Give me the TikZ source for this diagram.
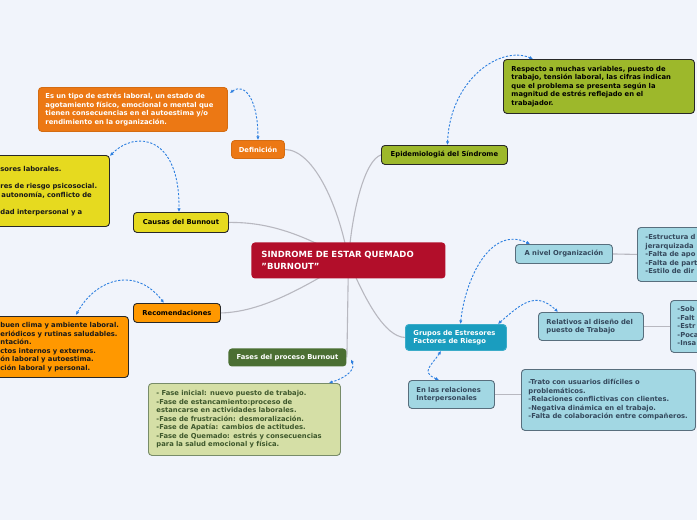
\documentclass[tikz,border=0pt]{standalone}
\usepackage{fontspec}
\setmainfont{DejaVu Sans}
\usetikzlibrary{arrows.meta,calc}
\definecolor{bgc}{RGB}{241,244,251}
\definecolor{redc}{RGB}{178,14,42}
\definecolor{orangeA}{RGB}{236,120,20}
\definecolor{orangeB}{RGB}{255,152,0}
\definecolor{olivec}{RGB}{157,184,43}
\definecolor{yellowc}{RGB}{230,218,31}
\definecolor{darkgreen}{RGB}{75,111,51}
\definecolor{palegreen}{RGB}{213,223,166}
\definecolor{pgborder}{RGB}{120,140,105}
\definecolor{pgtext}{RGB}{62,88,44}
\definecolor{tealc}{RGB}{26,157,191}
\definecolor{lightblue}{RGB}{162,215,227}
\definecolor{lbborder}{RGB}{88,110,125}
\definecolor{lbtext}{RGB}{52,72,92}
\definecolor{darkb}{RGB}{40,40,40}
\definecolor{linkblue}{RGB}{45,127,224}
\definecolor{linegray}{RGB}{184,184,192}
\pgfdeclarelayer{back}
\pgfsetlayers{back,main}
\tikzset{
  base/.style={rectangle, rounded corners=3.5pt, anchor=north west,
    font=\fontsize{6.8}{8.5}\selectfont\bfseries, line width=0.9pt},
  topic/.style={base, align=center, inner sep=0pt},
  textbox/.style={base, align=left, inner ysep=0pt},
  mainline/.style={draw=linegray, line width=1.1pt},
  dlink/.style={draw=linkblue, line width=0.9pt, dash pattern=on 2.2pt off 1.6pt,
    {Latex[length=3.6pt,width=3.4pt]}-{Latex[length=3.6pt,width=3.4pt]}},
}
\begin{document}
\begin{tikzpicture}[x=1pt,y=-1pt]
\useasboundingbox (0,0) rectangle (697,520);

% central
\node[topic, fill=redc, text=white, minimum width=194pt, minimum height=36pt,
  font=\fontsize{8.5}{11.5}\selectfont\bfseries, align=left, text width=174pt]
  (central) at (251,242) {SINDROME DE ESTAR QUEMADO\\"BURNOUT"};

% Definicion
\node[topic, fill=orangeA, draw=orangeA!90!black, text=white, minimum width=53pt, minimum height=18pt]
  (definicion) at (231,140) {Definición};
\node[textbox, fill=orangeA, draw=orangeA!90!black, text=white, minimum width=189pt, minimum height=44pt,
  inner xsep=7pt, text width=175pt] (deftext) at (38,87)
  {Es un tipo de estrés laboral, un estado de\\agotamiento físico, emocional o mental que\\tienen consecuencias en el autoestima y/o\\rendimiento en la organización.};

% Epidemiologia
\node[topic, fill=olivec, draw=darkb, text=black, minimum width=126pt, minimum height=19pt]
  (epid) at (381,145) {Epidemiologiá del Síndrome};
\node[textbox, fill=olivec, draw=darkb, text=black, minimum width=191pt, minimum height=54pt,
  inner xsep=8pt, text width=175pt] (epitext) at (503,59)
  {Respecto a muchas variables, puesto de\\trabajo, tensión laboral, las cifras indican\\que el problema se presenta según la\\magnitud de estrés reflejado en el\\trabajador.};

% Causas
\node[topic, fill=yellowc, draw=darkb, text=black, minimum width=95pt, minimum height=20pt]
  (causas) at (133,212) {Causas del Bunnout};
\node[textbox, fill=yellowc, draw=darkb, text=black!90, minimum width=118pt, minimum height=71pt,
  inner xsep=9pt, text width=100pt] (causastext) at (-9,155)
  {sores laborales.\\\mbox{}\\res de riesgo psicosocial.\\\hspace*{1pt}autonomía, conflicto de\\\mbox{}\\dad interpersonal y a};

% Recomendaciones
\node[topic, fill=orangeB, draw=darkb, text=black, minimum width=87pt, minimum height=19pt]
  (recom) at (133,303) {Recomendaciones};
\node[textbox, fill=orangeB, draw=darkb, text=black!90, minimum width=137pt, minimum height=61pt,
  inner xsep=9pt, text width=119pt] (rectext) at (-9,316)
  {buen clima y ambiente laboral.\\eriódicos y rutinas saludables.\\ntación.\\ctos internos y externos.\\ón laboral y autoestima.\\ción laboral y personal.};

% Fases
\node[topic, fill=darkgreen, text=white, minimum width=118pt, minimum height=18pt]
  (fases) at (228,348) {Fases del proceso Burnout};
\node[textbox, fill=palegreen, draw=pgborder, text=pgtext, minimum width=192pt, minimum height=72pt,
  inner xsep=8pt, text width=176pt] (fasestext) at (148,383)
  {- Fase inicial: nuevo puesto de trabajo.\\-Fase de estancamiento:proceso de\\estancarse en actividades laborales.\\-Fase de frustración: desmoralización.\\-Fase de Apatía: cambios de actitudes.\\-Fase de Quemado: estrés y consecuencias\\para la salud emocional y física.};

% Grupos
\node[textbox, fill=tealc, draw=tealc!85!white, text=white, minimum width=101pt, minimum height=26pt,
  inner xsep=8pt, text width=85pt] (grupos) at (405,324)
  {Grupos de Estresores\\Factores de Riesgo};

\node[topic, fill=lightblue, draw=lbborder, text=lbtext, minimum width=97pt, minimum height=19pt]
  (org) at (515,244) {A nivel Organización};
\node[textbox, fill=lightblue, draw=lbborder, text=lbtext, minimum width=100pt, minimum height=54pt,
  inner xsep=8pt, text width=84pt] (orgtext) at (637,227)
  {-Estructura d\\jerarquizada\\-Falta de apo\\-Falta de part\\-Estilo de dir};

\node[textbox, fill=lightblue, draw=lbborder, text=lbtext, minimum width=105pt, minimum height=28pt,
  inner xsep=8pt, text width=89pt] (relativos) at (538,312)
  {Relativos al diseño del\\puesto de Trabajo};
\node[textbox, fill=lightblue, draw=lbborder, text=lbtext, minimum width=60pt, minimum height=52pt,
  inner xsep=7pt, text width=46pt] (disenotext) at (670,300)
  {-Sob\\-Falt\\-Estr\\-Poca\\-Insa};

\node[textbox, fill=lightblue, draw=lbborder, text=lbtext, minimum width=86pt, minimum height=28pt,
  inner xsep=8pt, text width=70pt] (relaciones) at (408,380)
  {En las relaciones\\Interpersonales};
\node[textbox, fill=lightblue, draw=lbborder, text=lbtext, minimum width=174pt, minimum height=61pt,
  inner xsep=7pt, text width=160pt] (reltext) at (521,369)
  {-Trato con usuarios difíciles o\\problemáticos.\\-Relaciones conflictivas con clientes.\\-Negativa dinámica en el trabajo.\\-Falta de colaboración entre compañeros.};

% background and gray connectors
\begin{pgfonlayer}{back}
\fill[bgc] (0,0) rectangle (697,520);
\draw[mainline] (definicion.east) .. controls (315,150) and (340,210) .. (central.center);
\draw[mainline] (epid.west) .. controls (365,160) and (352,210) .. (central.center);
\draw[mainline] (causas.east) .. controls (265,222) and (300,232) .. (central.center);
\draw[mainline] (recom.east) .. controls (260,312) and (300,290) .. (central.center);
\draw[mainline] (central.center) -- (fases.east);
\draw[mainline] (grupos.west) .. controls (385,337) and (365,300) .. (central.center);
\draw[mainline] (org.east) -- (orgtext.west);
\draw[mainline] (relativos.east) -- (disenotext.west);
\draw[mainline] (relaciones.east) -- (relaciones.east -| reltext.west);
\end{pgfonlayer}

% dashed links
\draw[dlink] ($(deftext.north east)+(2,6)$) .. controls (245,82) and (258,100) .. (definicion.north);
\draw[dlink] ($(causastext.north east)+(0,1)$) .. controls (135,130) and (180,135) .. ([xshift=-2pt]causas.north);
\draw[dlink] ($(rectext.north west)+(85,-1)$) .. controls (95,280) and (135,265) .. ([xshift=-13pt]recom.north);
\draw[dlink] ([xshift=3pt]epid.north) .. controls (450,80) and (500,45) .. ($(epitext.north west)+(30,0)$);
\draw[dlink] ([xshift=4pt,yshift=-2pt]fases.east) .. controls (356,370) and (345,378) .. ($(fasestext.north east)+(-12,0)$);
\draw[dlink] ([xshift=4.5pt]grupos.north) .. controls (465,280) and (490,225) .. ($(org.north west)+(15,0)$);
\draw[dlink] ($(grupos.north east)+(-9,0)$) .. controls (520,305) and (535,290) .. ($(relativos.north west)+(20,0)$);
\draw[dlink] ($(grupos.south west)+(36,0)$) .. controls (432,365) and (420,372) .. ($(relaciones.north west)+(31,0)$);
\end{tikzpicture}
\end{document}
